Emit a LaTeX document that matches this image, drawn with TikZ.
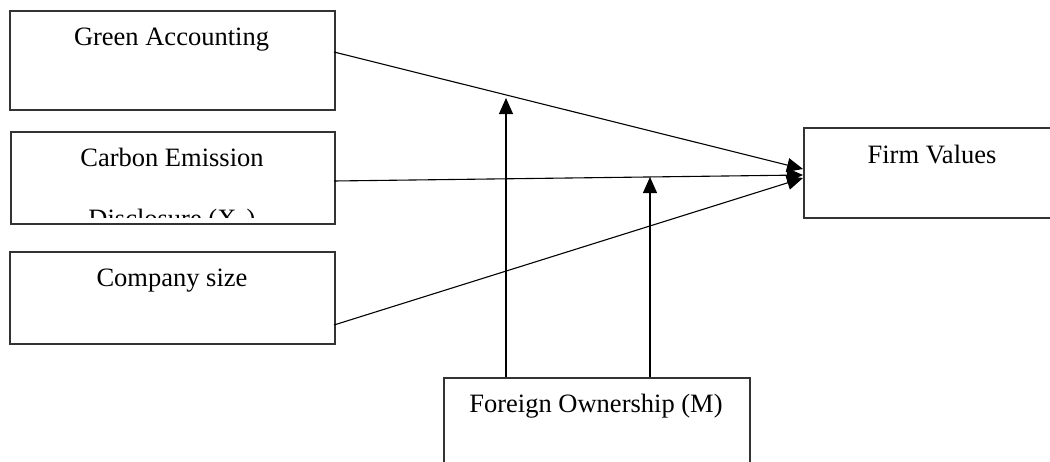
\documentclass[tikz,border=0pt]{standalone}
\usepackage{fontspec}
\setmainfont{Liberation Serif}
\usetikzlibrary{arrows.meta}
\begin{document}
\begin{tikzpicture}[x=0.5pt,y=-0.5pt,
  box/.style={draw=black!80,line width=0.75pt,rectangle,inner sep=0pt,anchor=north west},
  lbl/.style={font=\fontsize{13.25}{16}\selectfont,anchor=base,inner sep=0pt},
  conn/.style={draw=black,line width=0.55pt,-{Triangle[length=8pt,width=7pt]}}]
\clip (0,0) rectangle (1050,461);
\fill[white] (0,0) rectangle (1050,461);
% boxes
\node[box,minimum width=162.5pt,minimum height=49.5pt] (ga) at (9,10) {};
\node[box,minimum width=162pt,minimum height=46pt] (ce) at (10,131) {};
\node[box,minimum width=162.5pt,minimum height=46pt] (cs) at (9,251) {};
\node[box,minimum width=129pt,minimum height=45pt] (fv) at (803,127) {};
\node[box,minimum width=153pt,minimum height=50pt] (fo) at (443,377) {};
% texts
\node[lbl] (gat) at (171.5,45) {Green Accounting};
\node[lbl] (cet) at (172,166) {Carbon Emission};
\begin{scope}
\clip (10,131) rectangle (334,217);
\node[lbl] (cet2) at (172,227) {Disclosure (X\textsubscript{2})};
\end{scope}
\node[lbl] (cst) at (172,286) {Company size};
\node[lbl] (fvt) at (932,163) {Firm Values};
\node[lbl] (fot) at (596,412) {Foreign Ownership (M)};
% connector end points
\coordinate (gaout) at (334,52);
\coordinate (ceout) at (334,181);
\coordinate (csout) at (334,325);
\coordinate (fvin1) at (803,169);
\coordinate (fvin2) at (803,175);
\coordinate (fvin3) at (803,178);
\coordinate (fo1) at (506,377);
\coordinate (fo2) at (650,377);
\coordinate (m1) at (506,98);
\coordinate (m2) at (650,177);
% connectors
\draw[conn] (gaout) -- (fvin1);
\draw[conn] (ceout) -- (fvin2);
\draw[conn] (csout) -- (fvin3);
\draw[conn] (fo1) -- (m1);
\draw[conn] (fo2) -- (m2);
\end{tikzpicture}
\end{document}
